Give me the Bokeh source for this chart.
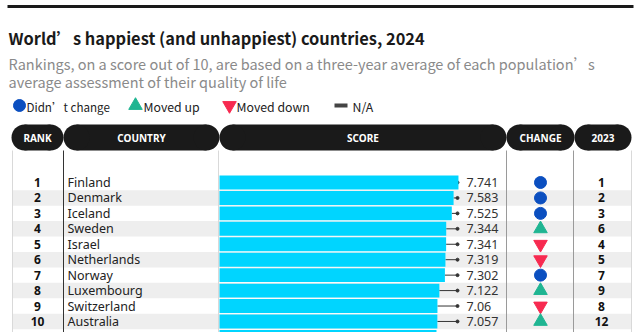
from bokeh.plotting import figure
from bokeh.models import Range1d, ColumnDataSource
from bokeh.core.properties import value
from bokeh.embed import file_html
from bokeh.resources import INLINE

# ---- data ----
ranks = [1, 2, 3, 4, 5, 6, 7, 8, 9, 10, 11]
countries = ["Finland", "Denmark", "Iceland", "Sweden", "Israel", "Netherlands",
             "Norway", "Luxembourg", "Switzerland", "Australia", "New Zealand"]
scores = [7.741, 7.583, 7.525, 7.344, 7.341, 7.319, 7.302, 7.122, 7.06, 7.057, 7.029]
changes = ["same", "same", "same", "up", "down", "down", "same", "up", "down", "up", "down"]
ranks_2023 = [1, 2, 3, 6, 4, 5, 7, 9, 8, 12, 10]
headers = ["RANK", "COUNTRY", "SCORE", "CHANGE", "2023"]
legend_labels = ["Didn’t change", "Moved up", "Moved down", "N/A"]
score_labels = [("%.3f" % s).rstrip("0") for s in scores]
VISIBLE_ROWS = 10  # rows whose texts fit in the window

# ---- style ----
W, H = 637, 332
CYAN = "#00d5ff"
BLUE = "#0b4fc0"
GREEN = "#1fb592"
RED = "#f72a50"
DARK = "#1a1a1a"
MARK = {"same": ("circle", BLUE, 12), "up": ("triangle", GREEN, 13.5), "down": ("inverted_triangle", RED, 13.5)}
LATIN = "Noto Sans"
CJK = "Noto Sans CJK SC"

# layout (pixels)
PILLS = [(11, 63), (63, 219), (219, 506), (506, 574), (574, 631)]
PILL_TOP, PILL_BOT = 124, 150
ROW1_Y, ROW_H = 182.0, 15.44
BAR_X0, PX_PER_UNIT = 219.0, 30.87

p = figure(width=W, height=H, x_range=Range1d(0, W), y_range=Range1d(H, 0),
           output_backend="svg", toolbar_location=None, min_border=0,
           min_border_left=0, min_border_right=0, min_border_top=0, min_border_bottom=0)
p.axis.visible = False
p.grid.visible = False
p.outline_line_color = None
p.background_fill_color = "white"
p.border_fill_color = "white"

p.extra_x_ranges = {"score": Range1d(-BAR_X0 / PX_PER_UNIT, (W - BAR_X0) / PX_PER_UNIT)}
p.extra_y_ranges = {"row": Range1d(start=1 + (H - ROW1_Y) / ROW_H, end=1 - ROW1_Y / ROW_H)}

src = ColumnDataSource(dict(
    rank=ranks, score=scores,
    marker=[MARK[c][0] for c in changes], color=[MARK[c][1] for c in changes],
    size=[MARK[c][2] for c in changes],
))
n = VISIBLE_ROWS
tsrc = ColumnDataSource(dict(
    rank=ranks[:n], country=countries[:n], label=score_labels[:n],
    rank_txt=[str(r) for r in ranks[:n]], prev=[str(r) for r in ranks_2023[:n]],
))

# top rule
p.segment(x0=7, y0=6, x1=633, y1=6, line_color=DARK, line_width=3)

# title / subtitle
p.text(x=[8], y=[37], text=["World’s happiest (and unhappiest) countries, 2024"],
       text_font=value(CJK), text_font_style="bold", text_font_size="16.4px",
       text_color="#1a1a1a", text_baseline="alphabetic")
p.text(x=[8, 8], y=[63, 81],
       text=["Rankings, on a score out of 10, are based on a three-year average of each population’s",
             "average assessment of their quality of life"],
       text_font=value(CJK), text_font_size="14.5px", text_color="#8a8a8a",
       text_baseline="alphabetic")

# legend
LEG_Y = 105
p.scatter(x=[19], y=[LEG_Y], marker="circle", size=12, color=BLUE)
p.scatter(x=[135], y=[LEG_Y], marker="triangle", size=13.5, color=GREEN)
p.scatter(x=[229], y=[LEG_Y], marker="inverted_triangle", size=13.5, color=RED)
p.segment(x0=334, y0=LEG_Y, x1=347, y1=LEG_Y, line_color="#444444", line_width=4)
p.text(x=[26], y=[LEG_Y + 1], text=legend_labels[:1],
       text_font=value(CJK), text_font_size="11.6px", text_color="#222222",
       text_baseline="middle")
p.text(x=[143, 236, 352], y=[LEG_Y + 1] * 3, text=legend_labels[1:],
       text_font=value(CJK), text_font_size="12.3px", text_color="#222222",
       text_baseline="middle")

# row bands (even rows)
even = [r for r in ranks if r % 2 == 0]
p.quad(left=12, right=631, top=[r - 0.5 for r in even], bottom=[r + 0.5 for r in even],
       y_range_name="row", fill_color="#eeeeee", line_color=None)

# column lines
p.segment(x0=[12, 218, 631], x1=[12, 218, 631], y0=PILL_BOT, y1=H,
          line_color="#d9d9d9", line_width=1)
p.segment(x0=[506, 573], x1=[506, 573], y0=PILL_BOT, y1=H, line_color="#9a9a9a", line_width=1)
p.segment(x0=63, x1=63, y0=PILL_BOT, y1=H, line_color="#333333", line_width=1)

# header pills
R = (PILL_BOT - PILL_TOP) / 2
cy = (PILL_TOP + PILL_BOT) / 2
p.quad(left=[a + R for a, b in PILLS], right=[b - R for a, b in PILLS],
       top=PILL_TOP, bottom=PILL_BOT, fill_color=DARK, line_color=None)
p.circle(x=[a + R for a, b in PILLS] + [b - R for a, b in PILLS], y=cy, radius=R,
         fill_color=DARK, line_color=None)
p.text(x=[(a + b) / 2 for a, b in PILLS], y=cy + 0.5, text=headers,
       text_font=value(LATIN), text_font_style="bold", text_font_size="10px",
       text_color="white", text_align="center", text_baseline="middle")

# connectors + bars
DOT_X, LABEL_X = 7.71, 8.0
p.segment(x0="score", x1=DOT_X, y0="rank", y1="rank", source=src,
          x_range_name="score", y_range_name="row", line_color="#333333", line_width=1)
p.scatter(x=DOT_X, y="rank", source=src, x_range_name="score", y_range_name="row",
          marker="circle", size=3, color="#333333")
p.hbar(y="rank", left=0, right="score", height=0.9, source=src,
       x_range_name="score", y_range_name="row", fill_color=CYAN, line_color=None)
p.text(x=LABEL_X, y="rank", text="label", source=tsrc, x_range_name="score", y_range_name="row",
       text_font=value(LATIN), text_font_size="12.5px", text_color="#333333",
       text_baseline="middle")

# rank, country, change, 2023
p.text(x=37, y="rank", text="rank_txt", source=tsrc, y_range_name="row",
       text_font=value(LATIN), text_font_style="bold", text_font_size="12px",
       text_color="#111111", text_align="center", text_baseline="middle")
p.text(x=67, y="rank", text="country", source=tsrc, y_range_name="row",
       text_font=value(LATIN), text_font_size="12.5px", text_color="#222222",
       text_baseline="middle")
p.scatter(x=540, y="rank", marker="marker", color="color", size="size", source=src,
          y_range_name="row")
p.text(x=601, y="rank", text="prev", source=tsrc, y_range_name="row",
       text_font=value(LATIN), text_font_style="bold", text_font_size="12px",
       text_color="#111111", text_align="center", text_baseline="middle")

open("out.html", "w").write(file_html(p, INLINE))
